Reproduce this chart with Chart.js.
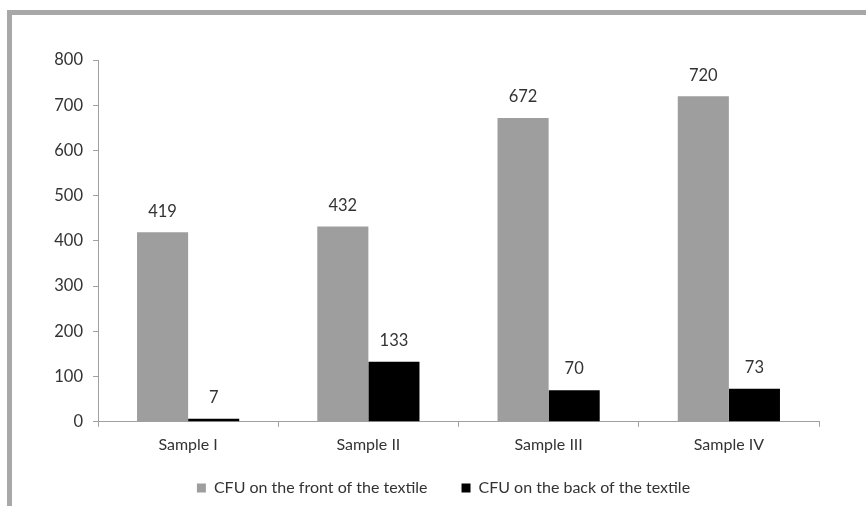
<!DOCTYPE html>
<html>
<head>
<meta charset="utf-8">
<script src="https://cdn.jsdelivr.net/npm/chart.js@4"></script>
<style>
  html, body { margin: 0; padding: 0; background: #fff; }
  body { width: 866px; height: 506px; position: relative; overflow: hidden; }
  #frame {
    position: absolute; left: 7px; top: 10px; right: 0; bottom: 0;
    border-top: 5px solid #a8a8a8; border-left: 5px solid #a8a8a8;
  }
  #chart { position: absolute; left: 0; top: 0; }
</style>
</head>
<body>
<div id="frame"></div>
<canvas id="chart" width="866" height="506"></canvas>

<script>
  const categories = ['Sample I', 'Sample II', 'Sample III', 'Sample IV'];
  const frontValues = [419, 432, 672, 720];
  const backValues = [7, 133, 70, 73];
  const seriesNames = ['CFU on the front of the textile', 'CFU on the back of the textile'];

  const FONT = 'Lato, "Open Sans", sans-serif';
  const TEXT = '#333333';

  // draws the value above each bar
  const valueLabels = {
    id: 'valueLabels',
    afterDatasetsDraw(chart) {
      const ctx = chart.ctx;
      ctx.save();
      ctx.font = '16.5px ' + FONT;
      ctx.fillStyle = TEXT;
      ctx.textAlign = 'center';
      ctx.textBaseline = 'middle';
      chart.data.datasets.forEach((ds, i) => {
        chart.getDatasetMeta(i).data.forEach((bar, j) => {
          ctx.fillText(String(ds.data[j]), bar.x, bar.y - 21);
        });
      });
      ctx.restore();
    }
  };

  // legend sits a bit right of the canvas centre in the original
  const legendShift = {
    id: 'legendShift',
    afterLayout(chart) {
      chart.legend.left += 68;
    }
  };

  function initChart() {
    const ctx = document.getElementById('chart').getContext('2d');

    new Chart(ctx, {
      type: 'bar',
      data: {
        labels: categories,
        datasets: [
          {
            label: seriesNames[0],
            data: frontValues,
            backgroundColor: '#9e9e9e',
            categoryPercentage: 0.567,
            barPercentage: 1
          },
          {
            label: seriesNames[1],
            data: backValues,
            backgroundColor: '#000000',
            categoryPercentage: 0.567,
            barPercentage: 1
          }
        ]
      },
      options: {
        responsive: false,
        animation: false,
        layout: { padding: { left: 0, right: 47, top: 60, bottom: 0 } },
        plugins: {
          tooltip: { enabled: false },
          legend: {
            position: 'bottom',
            labels: {
              boxWidth: 9,
              boxHeight: 9,
              padding: 18,
              color: TEXT,
              font: { family: FONT, size: 16 },
              generateLabels(chart) {
                const items = Chart.defaults.plugins.legend.labels.generateLabels(chart);
                // wider gap between the two entries, as in the original
                items[0].text += '\u2002\u2002';
                return items;
              }
            }
          }
        },
        scales: {
          x: {
            grid: { drawOnChartArea: false, drawTicks: true, tickLength: 5, color: '#a0a0a0' },
            border: { display: true, color: '#a0a0a0' },
            ticks: { color: TEXT, padding: 8, font: { family: FONT, size: 16 } }
          },
          y: {
            min: 0,
            max: 800,
            afterFit(scale) { scale.width = 98; },
            grid: { drawOnChartArea: false, drawTicks: true, tickLength: 5, color: '#a0a0a0' },
            border: { display: true, color: '#a0a0a0' },
            ticks: { stepSize: 100, color: TEXT, padding: 10, font: { family: FONT, size: 16.5 } }
          }
        }
      },
      plugins: [valueLabels, legendShift]
    });
  }

  requestAnimationFrame(initChart);
</script>
</body>
</html>
